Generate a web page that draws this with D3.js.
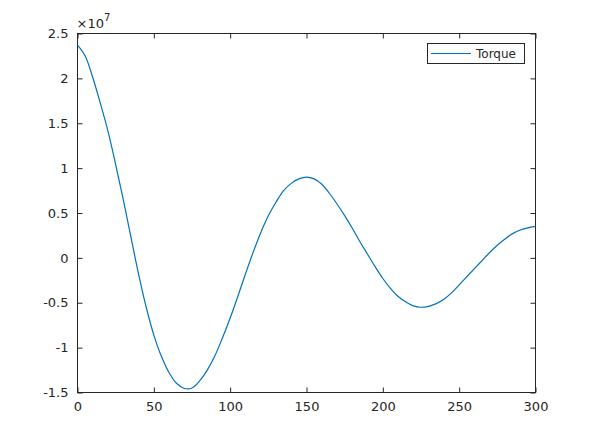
<!DOCTYPE html>

<head>
    <meta charset="utf-8">
    <title>Torque</title>
    <style>
        body {
            margin: 0;
            background: #fff;
        }
        text {
            font-family: "DejaVu Sans", sans-serif;
            fill: #262626;
        }
    </style>
</head>

<body>
    <script src="https://d3js.org/d3.v7.min.js"></script>

    <script>

        var width = 591,
            height = 440;

        // values (y in units of 1e7)
        var xs = [0, 5, 10, 15, 20, 25, 30, 35, 40, 45, 50, 55, 60, 65, 70, 75, 80, 85, 90, 95,
            100, 105, 110, 115, 120, 125, 130, 135, 140, 145, 150, 155, 160, 165, 170, 175, 180, 185, 190, 195,
            200, 205, 210, 215, 220, 225, 230, 235, 240, 245, 250, 255, 260, 265, 270, 275, 280, 285, 290, 295, 300];
        var torque = [2.37, 2.25, 2.01, 1.72, 1.41, 1.04, 0.65, 0.23, -0.18, -0.55, -0.86, -1.10, -1.28, -1.40, -1.455, -1.45, -1.37, -1.25, -1.09, -0.89,
            -0.67, -0.43, -0.18, 0.06, 0.28, 0.47, 0.62, 0.75, 0.83, 0.88, 0.90, 0.88, 0.82, 0.72, 0.60, 0.47, 0.33, 0.18, 0.04, -0.10,
            -0.23, -0.34, -0.43, -0.49, -0.535, -0.55, -0.54, -0.51, -0.46, -0.39, -0.30, -0.21, -0.12, -0.03, 0.06, 0.14, 0.21, 0.27, 0.31, 0.335, 0.35];

        var xTicks = [0, 50, 100, 150, 200, 250, 300];
        var yTicks = [-1.5, -1, -0.5, 0, 0.5, 1, 1.5, 2, 2.5];
        var seriesName = "Torque";

        var mLeft = 77.5, mRight = 535.5, mTop = 33.5, mBottom = 392.5;

        var x = d3.scaleLinear().domain([0, 300]).range([mLeft, mRight]);
        var y = d3.scaleLinear().domain([-1.5, 2.5]).range([mBottom, mTop]);

        var svg = d3.select("body").append("svg")
            .attr("width", width)
            .attr("height", height);

        // box
        svg.append("rect")
            .attr("x", mLeft).attr("y", mTop)
            .attr("width", mRight - mLeft).attr("height", mBottom - mTop)
            .attr("fill", "none")
            .attr("stroke", "#262626")
            .attr("stroke-width", 1);

        // bottom + top ticks
        var xAxis = d3.axisBottom(x).tickValues(xTicks).tickSize(-5).tickPadding(9)
            .tickFormat(d3.format("d"));
        svg.append("g")
            .attr("transform", "translate(0," + mBottom + ")")
            .call(xAxis);
        svg.append("g")
            .attr("transform", "translate(0," + mTop + ")")
            .call(d3.axisTop(x).tickValues(xTicks).tickSize(-5).tickFormat(""));

        // left + right ticks
        var yAxis = d3.axisLeft(y).tickValues(yTicks).tickSize(-5).tickPadding(9)
            .tickFormat(function (d) { return String(d); });
        svg.append("g")
            .attr("transform", "translate(" + mLeft + ",0)")
            .call(yAxis);
        svg.append("g")
            .attr("transform", "translate(" + mRight + ",0)")
            .call(d3.axisRight(y).tickValues(yTicks).tickSize(-5).tickFormat(""));

        svg.selectAll(".domain").remove();
        svg.selectAll(".tick line").attr("stroke", "#262626");
        svg.selectAll(".tick text")
            .attr("fill", "#262626")
            .style("font-family", "'DejaVu Sans', sans-serif")
            .style("font-size", "13px");

        // exponent label
        var ex = svg.append("text")
            .attr("x", mLeft - 1)
            .attr("y", 28)
            .style("font-size", "13px");
        ex.append("tspan").text("\u00d710");
        ex.append("tspan").attr("dy", -7).style("font-size", "10px").text("7");

        // line
        var pts = xs.map(function (d, i) { return [d, torque[i]]; });
        var line = d3.line()
            .x(function (d) { return x(d[0]); })
            .y(function (d) { return y(d[1]); })
            .curve(d3.curveCatmullRom);

        svg.append("path")
            .datum(pts)
            .attr("fill", "none")
            .attr("stroke", "#0072BD")
            .attr("stroke-width", 1.2)
            .attr("d", line);

        // legend
        var lg = svg.append("g");
        lg.append("rect")
            .attr("x", 427.5).attr("y", 43.5)
            .attr("width", 97).attr("height", 20)
            .attr("fill", "#fff")
            .attr("stroke", "#262626");
        lg.append("line")
            .attr("x1", 431).attr("x2", 471)
            .attr("y1", 53.5).attr("y2", 53.5)
            .attr("stroke", "#0072BD");
        lg.append("text")
            .attr("x", 476)
            .attr("y", 58)
            .style("font-size", "12px")
            .text(seriesName);

    </script>

</body>
